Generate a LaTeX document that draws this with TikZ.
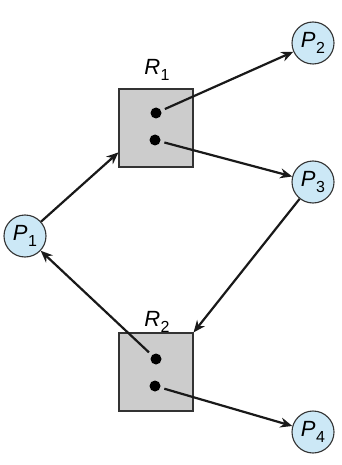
\documentclass[tikz,border=0pt]{standalone}
\usepackage{fontspec}
\setmainfont{Liberation Sans}
\usetikzlibrary{arrows.meta}
\definecolor{pfill}{RGB}{204,232,246}
\definecolor{rfill}{RGB}{204,204,204}
\newcommand{\lab}[2]{{\fontsize{22}{24}\selectfont\itshape #1}\kern0.5pt\raisebox{-6pt}{\fontsize{16}{18}\selectfont #2}}
\tikzset{
  proc/.style={circle,draw=black!80,line width=1.1pt,fill=pfill,minimum size=42pt,inner sep=0pt},
  res/.style={rectangle,draw=black!80,line width=1.1pt,fill=rfill,minimum width=74pt,minimum height=78pt,inner sep=0pt},
  dot/.style={circle,fill=black,minimum size=11pt,inner sep=0pt},
  edge/.style={line width=2.2pt,draw=black!90,-{Stealth[length=12pt,width=10pt]}},
}
\begin{document}
\begin{tikzpicture}[x=1pt,y=-1pt]
\useasboundingbox (0,0) rectangle (342,465);
\node[res] (R1) at (156,128) {};
\node[res] (R2) at (156,372) {};
\node (R1l) at (157,70) {\lab{R}{1}};
\node (R2l) at (157,322) {\lab{R}{2}};
\node[dot] (d11) at (156,113) {};
\node[dot] (d12) at (155,140) {};
\node[dot] (d21) at (156,359) {};
\node[dot] (d22) at (155,386) {};
\node[proc] (P1) at (25,236) {\lab{P}{1}};
\node[proc] (P2) at (313,43) {\lab{P}{2}};
\node[proc] (P3) at (313,182) {\lab{P}{3}};
\node[proc] (P4) at (313,432) {\lab{P}{4}};
\draw[edge] (P1) -- (R1.213);
\draw[edge,shorten <=4pt] (d11) -- (P2);
\draw[edge,shorten <=4pt] (d12) -- (P3);
\draw[edge] (P3) -- (R2.north east);
\draw[edge,shorten <=4pt] (d21) -- (P1);
\draw[edge,shorten <=4pt] (d22) -- (P4);
\end{tikzpicture}
\end{document}
